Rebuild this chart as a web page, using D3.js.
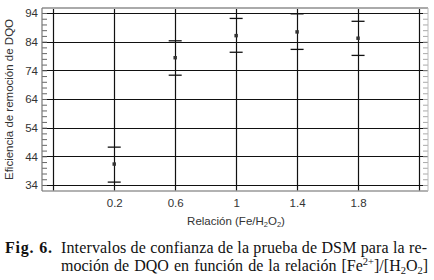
<!DOCTYPE html>
<html>
<head>
<meta charset="utf-8">
<script src="https://cdn.jsdelivr.net/npm/d3@7"></script>
<style>
  body { margin: 0; background: #fff; }
  svg { display: block; }
  .tick text { font-family: "Liberation Sans", Arial, sans-serif; font-size: 11.5px; fill: #333; }
</style>
</head>
<body>
<div id="chart"></div>
<script>
// Confidence intervals for COD removal vs Fe/H2O2 ratio
const ratios = [0.2, 0.6, 1.0, 1.4, 1.8];
const means = [41.3, 78.4, 86.1, 87.4, 85.2];
const upper = [47.2, 84.3, 92.1, 93.7, 91.1];
const lower = [35.0, 72.3, 80.3, 81.3, 79.2];

const yMajor = [34, 44, 54, 64, 74, 84, 94];
const xGrid = [-0.2, 0.2, 0.6, 1.0, 1.4, 1.8, 2.2];
const xLabels = [0.2, 0.6, 1, 1.4, 1.8];

const W = 434, H = 280;
const plotL = 42, plotR = 428, plotT = 8, plotB = 191;

const svg = d3.select("#chart").append("svg")
    .attr("width", W)
    .attr("height", H);

const x = d3.scaleLinear().domain([-0.274, 2.259]).range([plotL, plotR]);
const y = d3.scaleLinear().domain([31.9, 95.74]).range([plotB, plotT]);

// grid
svg.append("g").selectAll("line")
    .data(yMajor)
    .enter().append("line")
    .attr("x1", plotL).attr("x2", plotR)
    .attr("y1", d => Math.round(y(d)) + 0.5)
    .attr("y2", d => Math.round(y(d)) + 0.5)
    .attr("stroke", "#111").attr("stroke-width", 1.2);

svg.append("g").selectAll("line")
    .data(xGrid)
    .enter().append("line")
    .attr("y1", plotT).attr("y2", plotB)
    .attr("x1", d => Math.round(x(d)) + 0.5)
    .attr("x2", d => Math.round(x(d)) + 0.5)
    .attr("stroke", "#111").attr("stroke-width", 1.2);

// minor ticks, left and right
const minor = d3.range(34, 95, 2);
svg.append("g")
    .attr("transform", `translate(${plotL},0)`)
    .call(d3.axisRight(y).tickValues(minor).tickSize(5).tickFormat(""))
    .call(g => g.select(".domain").remove())
    .call(g => g.selectAll(".tick line").attr("stroke", "#666"));

svg.append("g")
    .attr("transform", `translate(${plotR},0)`)
    .call(d3.axisLeft(y).tickValues(minor).tickSize(5).tickFormat(""))
    .call(g => g.select(".domain").remove())
    .call(g => g.selectAll(".tick line").attr("stroke", "#aaa"));

// tick labels
svg.append("g")
    .attr("transform", `translate(${plotL},0)`)
    .call(d3.axisLeft(y).tickValues(yMajor).tickSize(0).tickPadding(4))
    .call(g => g.select(".domain").remove());

svg.append("g")
    .attr("transform", `translate(0,${plotB})`)
    .call(d3.axisBottom(x).tickValues(xLabels).tickSize(0).tickPadding(8).tickFormat(d3.format("")))
    .call(g => g.select(".domain").remove());

// frame
svg.append("line").attr("x1", plotL).attr("x2", plotR).attr("y1", plotT).attr("y2", plotT)
    .attr("stroke", "#aaa").attr("stroke-width", 2);
svg.append("line").attr("x1", plotL).attr("x2", plotR).attr("y1", plotB).attr("y2", plotB)
    .attr("stroke", "#999").attr("stroke-width", 1.5);
svg.append("line").attr("x1", plotL).attr("x2", plotL).attr("y1", plotT).attr("y2", plotB)
    .attr("stroke", "#777").attr("stroke-width", 1.2);
svg.append("line").attr("x1", plotR).attr("x2", plotR).attr("y1", plotT).attr("y2", plotB)
    .attr("stroke", "#bbb").attr("stroke-width", 1);

// error bars
const pts = ratios.map((r, i) => ({ r, m: means[i], hi: upper[i], lo: lower[i] }));
const eb = svg.append("g").selectAll("g").data(pts).enter().append("g");
eb.append("line")
    .attr("x1", d => x(d.r) - 6.5).attr("x2", d => x(d.r) + 6.5)
    .attr("y1", d => y(d.hi)).attr("y2", d => y(d.hi))
    .attr("stroke", "#111").attr("stroke-width", 1.3);
eb.append("line")
    .attr("x1", d => x(d.r) - 6.5).attr("x2", d => x(d.r) + 6.5)
    .attr("y1", d => y(d.lo)).attr("y2", d => y(d.lo))
    .attr("stroke", "#111").attr("stroke-width", 1.3);
eb.append("path")
    .attr("transform", d => `translate(${x(d.r)},${y(d.m)})`)
    .attr("d", d3.symbol().type(d3.symbolSquare).size(12))
    .attr("fill", "#333");

// axis titles
const sans = "'Liberation Sans', Arial, sans-serif";
const xt = svg.append("text")
    .attr("x", 236).attr("y", 225)
    .attr("text-anchor", "middle")
    .attr("font-family", sans).attr("font-size", 11.5).attr("fill", "#333");
xt.append("tspan").text("Relación (Fe/H");
xt.append("tspan").attr("font-size", 7.5).attr("dy", 2).text("2");
xt.append("tspan").attr("dy", -2).text("O");
xt.append("tspan").attr("font-size", 7.5).attr("dy", 2).text("2");
xt.append("tspan").attr("dy", -2).text(")");

svg.append("text")
    .attr("transform", `translate(13,${(plotT + plotB) / 2}) rotate(-90)`)
    .attr("text-anchor", "middle")
    .attr("font-family", sans).attr("font-size", 11.5).attr("fill", "#333")
    .text("Eficiencia de remoción de DQO");

// caption
const serif = "'Liberation Serif', 'Times New Roman', serif";
svg.append("text")
    .attr("x", 5).attr("y", 253)
    .attr("font-family", serif).attr("font-size", 16).attr("font-weight", "bold")
    .attr("fill", "#111")
    .attr("textLength", 47).attr("lengthAdjust", "spacing")
    .text("Fig. 6.");

svg.append("text")
    .attr("x", 61).attr("y", 253)
    .attr("font-family", serif).attr("font-size", 16).attr("fill", "#111")
    .attr("textLength", 366).attr("lengthAdjust", "spacing")
    .text("Intervalos de confianza de la prueba de DSM para la re-");

const c2 = svg.append("text")
    .attr("x", 61).attr("y", 271)
    .attr("font-family", serif).attr("font-size", 16).attr("fill", "#111");
c2.append("tspan").text("moción de DQO en función de la relación [Fe");
c2.append("tspan").attr("font-size", 10.5).attr("dy", -6).text("2+");
c2.append("tspan").attr("dy", 6).text("]/[H");
c2.append("tspan").attr("font-size", 10.5).attr("dy", 3).text("2");
c2.append("tspan").attr("dy", -3).text("O");
c2.append("tspan").attr("font-size", 10.5).attr("dy", 3).text("2");
c2.append("tspan").attr("dy", -3).text("]");
// justify line 2 by widening the word gaps
const natural = c2.node().getComputedTextLength();
c2.attr("word-spacing", Math.max(0, (366 - natural) / 7));
</script>
</body>
</html>
